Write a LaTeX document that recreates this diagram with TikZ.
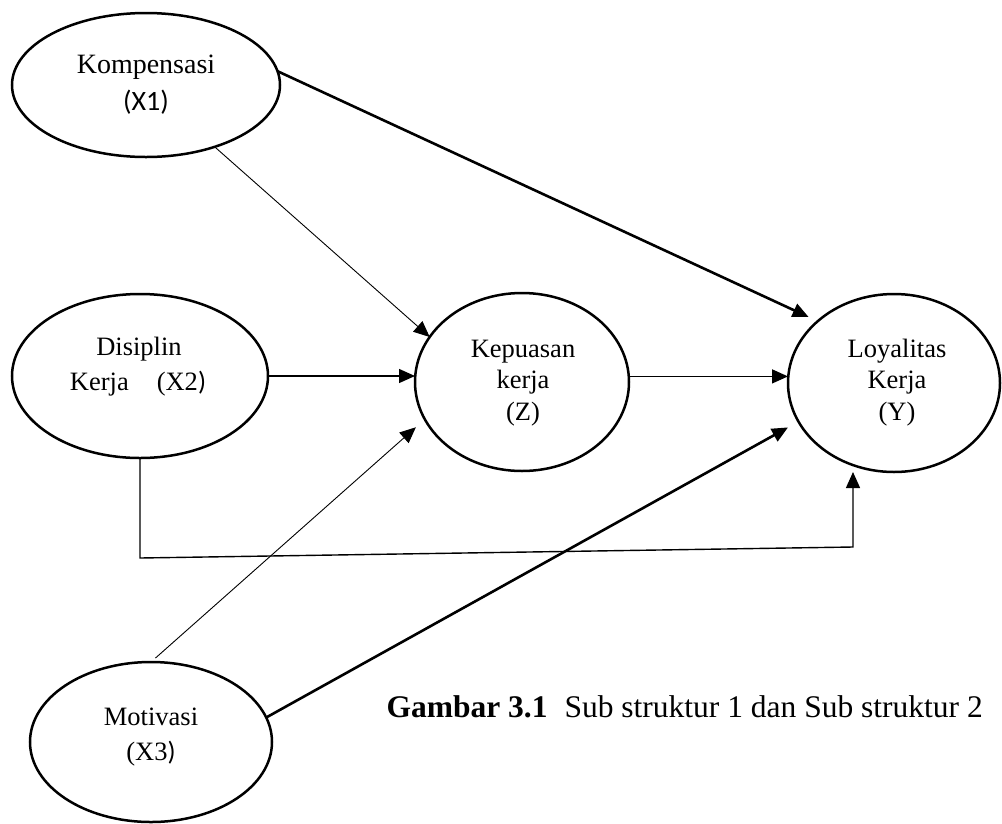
\documentclass[tikz,border=0pt]{standalone}
\usepackage{fontspec}
\setmainfont{Liberation Serif}
\newfontfamily\calfont{Carlito}
\usetikzlibrary{arrows.meta,shapes.geometric}
\tikzset{
  var/.style={ellipse, draw, line width=2.5pt, inner sep=0pt, outer sep=0pt},
  lbl/.style={anchor=base, inner sep=0pt, font=\fontsize{26.5}{32}\selectfont},
  thinc/.style={line width=0.9pt},
  medc/.style={line width=1.4pt},
  thickc/.style={line width=2.6pt},
  arr/.style={-{Triangle[length=16pt,width=14pt]}}
}
\begin{document}
\begin{tikzpicture}[x=1pt,y=-1pt]
\useasboundingbox (0,0) rectangle (1002,823);
% ellipses
\node[var, minimum width=268pt, minimum height=144pt] (komp) at (146,85) {};
\node[var, minimum width=256pt, minimum height=164pt] (dis) at (140,376) {};
\node[var, minimum width=214pt, minimum height=178pt] (kep) at (522,382) {};
\node[var, minimum width=212pt, minimum height=178pt] (loy) at (894,383) {};
\node[var, minimum width=242pt, minimum height=160pt] (mot) at (151,742) {};
% labels
\node[lbl, font=\fontsize{28}{32}\selectfont] (kompA) at (146,73) {Kompensasi};
\node[lbl, font=\fontsize{28}{32}\calfont] (kompB) at (146,110) {(X1)};
\node[lbl] (disA) at (139,355) {Disiplin};
\node[lbl] (disB) at (138,390) {Kerja\hspace{28pt}(X2{\calfont )}};
\node[lbl] (kepA) at (523,357) {Kepuasan};
\node[lbl] (kepB) at (523,388) {kerja};
\node[lbl] (kepC) at (523,420) {(Z)};
\node[lbl] (loyA) at (897,357) {Loyalitas};
\node[lbl] (loyB) at (897,388) {Kerja};
\node[lbl] (loyC) at (897,420) {(Y)};
\node[lbl] (motA) at (151,725) {Motivasi};
\node[lbl] (motB) at (151,760) {(X3{\calfont )}};
\node[anchor=base east, inner sep=0pt, font=\fontsize{31.5}{38}\selectfont] (cap) at (983,717)
  {\textbf{Gambar 3.1}\hspace{17pt}Sub struktur 1 dan Sub struktur 2};
% connectors
\draw[thickc, arr, shorten >=10pt] (komp.6) -- (loy.141);
\draw[thinc, arr] (komp.-42) -- (kep.154);
\draw[medc, arr] (dis.east) -- (dis.east -| kep.west);
\draw[medc, arr] (kep.3) -- (kep.3 -| loy.west);
\draw[thinc, arr, shorten <=6pt, shorten >=12pt] (mot.north) -- (kep.201);
\draw[thickc, arr, shorten >=12pt] (mot.12) -- (loy.202);
\coordinate (b1) at (140,558);
\coordinate (b2) at (853,547);
\draw[medc, arr] (dis.south) -- (b1) -- (b2) -- (b2 |- loy.south);
\end{tikzpicture}
\end{document}
